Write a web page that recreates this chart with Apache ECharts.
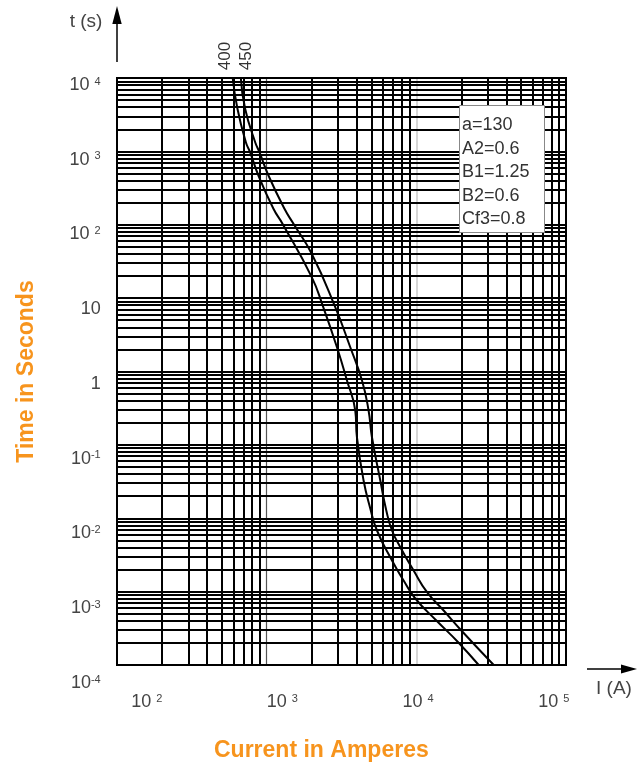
<!DOCTYPE html>
<html><head><meta charset="utf-8">
<script src="https://cdn.jsdelivr.net/npm/echarts@6/dist/echarts.min.js"></script>
<style>html,body{margin:0;padding:0;background:#fff}#c{width:639px;height:766px}</style>
</head><body><div id="c"></div>
<script>
// ---- data ----
const xDecades = [100, 1000, 10000];
const yDecades = [0.0001, 0.001, 0.01, 0.1, 1, 10, 100, 1000];
const gridMultipliers = [1, 2, 3, 4, 5, 6, 7, 8, 9];
const xTickExponents = [2, 3, 4, 5];
const yTickExponents = [-4, -3, -2, -1, 0, 1, 2, 3, 4];
const seriesNames = ['400', '450'];
const fuse400I = [593, 638, 726, 775, 881, 1110, 1276, 2000, 2388, 2949, 3440, 3908, 4011, 4442, 4924, 5458, 6879, 8222, 9840, 13610, 19100, 26100];
const fuse400T = [10000, 3804, 1334, 975, 469, 165, 103, 19.3, 7.52, 2.14, 0.754, 0.294, 0.127, 0.0327, 0.0136, 0.00681, 0.00265, 0.00142, 0.000806, 0.000404, 0.000203, 0.0001];
const fuse450I = [672, 718, 838, 895, 1028, 1315, 1511, 2000, 2873, 3619, 4335, 4797, 5053, 5746, 6300, 6879, 7816, 9590, 11790, 15220, 19700, 32900];
const fuse450T = [10000, 3804, 1334, 975, 469, 165, 103, 40.2, 7.52, 2.14, 0.754, 0.294, 0.127, 0.0327, 0.01276, 0.00681, 0.00403, 0.00194, 0.000982, 0.000553, 0.000305, 0.0001];
const paramLines = ['a=130', 'A2=0.6', 'B1=1.25', 'B2=0.6', 'Cf3=0.8'];

// ---- build ----
const FONT = "'Liberation Sans','Arimo',Arial,sans-serif";
const GRAY = '#444';
const xGrid = [];
xDecades.forEach(d => gridMultipliers.forEach(m => xGrid.push(d * m)));
xGrid.push(100000);
const yGrid = [];
yDecades.forEach(d => gridMultipliers.forEach(m => yGrid.push(+(d * m).toPrecision(3))));
yGrid.push(10000);

const vLineStyle = v => {
  if (v === 10000) return { color: '#c8c8c8', width: 1.5, type: 'solid' };
  if (v === 1000) return { color: '#555', width: 1.2, type: 'solid' };
  return { color: '#000', width: 2, type: 'solid' };
};
const markData = [];
xGrid.forEach(v => markData.push({ xAxis: v, lineStyle: vLineStyle(v) }));
yGrid.forEach(v => markData.push({ yAxis: v, lineStyle: { color: '#000', width: 2, type: 'solid' } }));

const pairs = (xs, ys) => xs.map((x, i) => [x, ys[i]]);
const rich = {
  m: { fontSize: 18, lineHeight: 18, fontFamily: FONT, color: GRAY },
  s: { fontSize: 11, lineHeight: 11, fontFamily: FONT, color: GRAY, verticalAlign: 'top' }
};
const yFmt = v => {
  if (v === 0) return '{m|1}';
  if (v === 1) return '{m|10}';
  if (v > 0) return '{m|10 }{s|' + v + '}';
  return '{m|10}{s|' + v + '}';
};

const chart = echarts.init(document.getElementById('c'), null, { renderer: 'canvas' });
chart.setOption({
  animation: false,
  backgroundColor: '#fff',
  title: {
    text: 'Current in Amperes', left: 214, top: 739, padding: 0,
    textStyle: { color: '#f7941d', fontSize: 23, fontWeight: 'bold', fontFamily: FONT }
  },
  grid: [
    { left: 117, top: 78, width: 449, height: 587, show: true, borderColor: '#000', borderWidth: 2, backgroundColor: 'transparent' },
    { left: 146.7, top: 85, width: 407.1, height: 598, show: false }
  ],
  xAxis: [
    { type: 'log', logBase: 10, min: 100, max: 100000, gridIndex: 0,
      axisLine: { show: false }, axisTick: { show: false }, axisLabel: { show: false }, splitLine: { show: false } },
    { type: 'value', min: 2, max: 5, interval: 1, gridIndex: 1, position: 'bottom',
      axisLine: { show: false }, axisTick: { show: false }, splitLine: { show: false },
      axisLabel: { margin: 10, formatter: v => '{m|10 }{s|' + v + '}', rich: rich } }
  ],
  yAxis: [
    { type: 'log', logBase: 10, min: 0.0001, max: 10000, gridIndex: 0,
      name: 'Time in Seconds', nameLocation: 'middle', nameRotate: 90, nameGap: 79,
      nameTextStyle: { color: '#f7941d', fontSize: 23, fontWeight: 'bold', fontFamily: FONT },
      axisLine: { show: false }, axisTick: { show: false }, axisLabel: { show: false }, splitLine: { show: false } },
    { type: 'value', min: -4, max: 4, interval: 1, gridIndex: 1, position: 'left',
      axisLine: { show: false }, axisTick: { show: false }, splitLine: { show: false },
      axisLabel: { margin: 46, formatter: yFmt, rich: rich } }
  ],
  series: [
    { type: 'line', name: 'grid', xAxisIndex: 0, yAxisIndex: 0, data: [], z: 1, silent: true,
      markLine: { silent: true, precision: 10, symbol: ['none', 'none'], label: { show: false }, animation: false,
        lineStyle: { type: 'solid' }, data: markData } },
    { type: 'line', name: seriesNames[0], xAxisIndex: 0, yAxisIndex: 0, data: pairs(fuse400I, fuse400T),
      smooth: 0.5, showSymbol: false, z: 5, lineStyle: { color: '#000', width: 2 } },
    { type: 'line', name: seriesNames[1], xAxisIndex: 0, yAxisIndex: 0, data: pairs(fuse450I, fuse450T),
      smooth: 0.5, showSymbol: false, z: 5, lineStyle: { color: '#000', width: 2 } }
  ],
  graphic: { elements: [
    { type: 'line', z: 100, shape: { x1: 117, y1: 62, x2: 117, y2: 22 }, style: { stroke: '#000', lineWidth: 1.5 } },
    { type: 'polygon', z: 100, shape: { points: [[117, 6], [112.3, 24], [121.7, 24]] }, style: { fill: '#000' } },
    { type: 'line', z: 100, shape: { x1: 587, y1: 669, x2: 623, y2: 669 }, style: { stroke: '#000', lineWidth: 1.5 } },
    { type: 'polygon', z: 100, shape: { points: [[637, 669], [621, 664.5], [621, 673.5]] }, style: { fill: '#000' } },
    { type: 'text', z: 100, x: 86, y: 22, style: { text: 't (s)', fontSize: 19, fontFamily: FONT, fill: GRAY, align: 'center', verticalAlign: 'middle' } },
    { type: 'text', z: 100, x: 614, y: 689, style: { text: 'I (A)', fontSize: 19, fontFamily: FONT, fill: GRAY, align: 'center', verticalAlign: 'middle' } },
    { type: 'text', z: 100, x: 225, y: 56, rotation: Math.PI / 2, style: { text: seriesNames[0], fontSize: 17, fontFamily: FONT, fill: '#333', align: 'center', verticalAlign: 'middle' } },
    { type: 'text', z: 100, x: 246, y: 56, rotation: Math.PI / 2, style: { text: seriesNames[1], fontSize: 17, fontFamily: FONT, fill: '#333', align: 'center', verticalAlign: 'middle' } },
    { type: 'rect', z: 100, shape: { x: 459.5, y: 105.5, width: 85, height: 127 }, style: { fill: '#fff', stroke: '#888', lineWidth: 1 } }
  ].concat(paramLines.map((t, i) => ({
    type: 'text', z: 101, x: 462, y: 125 + i * 23.6,
    style: { text: t, fontSize: 18, fontFamily: FONT, fill: '#333', align: 'left', verticalAlign: 'middle' }
  }))) }
});
</script>
</body></html>
